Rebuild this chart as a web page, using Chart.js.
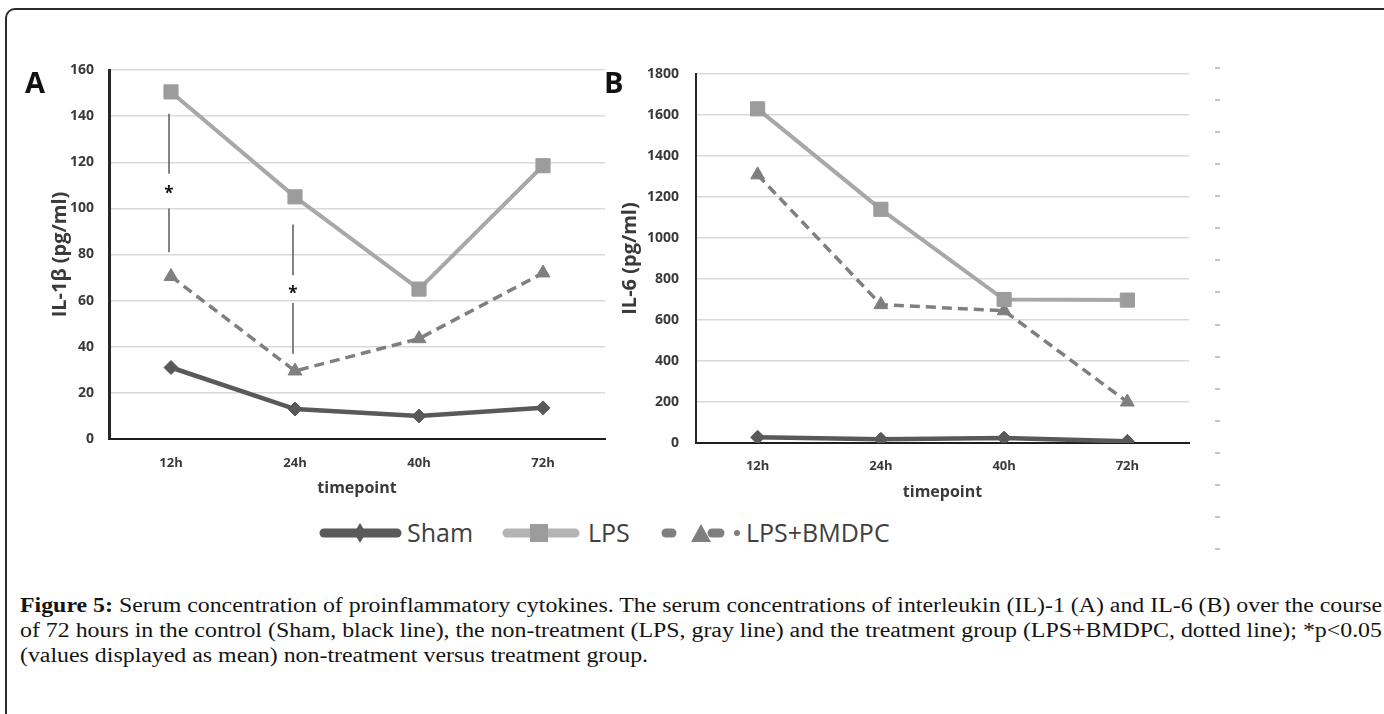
<!DOCTYPE html>
<html lang="en">

<head>
    <meta charset="UTF-8">
    <title>Figure 5 - serum cytokines</title>
    <script src="https://cdn.jsdelivr.net/npm/chart.js"></script>
    <style>
        body {
            margin: 0;
            width: 1384px;
            height: 714px;
            overflow: hidden;
            background: #fff;
            position: relative;
            font-family: "Open Sans", sans-serif;
        }

        .frame {
            position: absolute;
            left: 5px;
            top: 8px;
            width: 1420px;
            height: 740px;
            border: 2px solid #2b2b2b;
            border-top-left-radius: 10px;
        }

        canvas {
            position: absolute;
            top: 0;
        }

        #chartA { left: 0; }
        #chartB { left: 590px; }

        .panel {
            position: absolute;
            font-weight: bold;
            font-size: 29px;
            line-height: 29px;
            color: #111;
        }

        .ticks-right {
            position: absolute;
            left: 1215px;
            top: 67px;
            width: 5px;
            height: 486px;
            background: repeating-linear-gradient(to bottom, #c4c4c4 0 2px, transparent 2px 32.07px);
        }

        #legend {
            position: absolute;
            left: 300px;
            top: 505px;
        }

        .caption {
            position: absolute;
            left: 20px;
            top: 593px;
            font-family: "Liberation Serif", "Times New Roman", serif;
            font-size: 20px;
            color: #141414;
        }

        .caption div {
            height: 25px;
            line-height: 25px;
            white-space: nowrap;
        }

        .caption span {
            display: inline-block;
            transform-origin: 0 50%;
        }
    </style>
</head>

<body>
    <div class="frame"></div>

    <canvas id="chartA" width="616" height="498"></canvas>
    <canvas id="chartB" width="610" height="502"></canvas>

    <div class="panel" style="left:25px; top:67px;">A</div>
    <div class="panel" style="left:604px; top:67px;">B</div>

    <div class="ticks-right"></div>

    <svg id="legend" width="620" height="55"></svg>

    <div class="caption">
        <div><span class="fit"><b>Figure 5:</b> Serum concentration of proinflammatory cytokines. The serum concentrations of interleukin (IL)-1 (A) and IL-6 (B) over the course</span></div>
        <div><span class="fit">of 72 hours in the control (Sham, black line), the non-treatment (LPS, gray line) and the treatment group (LPS+BMDPC, dotted line); *p&lt;0.05</span></div>
        <div><span class="last">(values displayed as mean) non-treatment versus treatment group.</span></div>
    </div>

    <script>
        // data
        const timepoints = ['12h', '24h', '40h', '72h'];
        const seriesNames = ['Sham', 'LPS', 'LPS+BMDPC'];

        // panel A: IL-1beta (pg/ml)
        const il1bSham = [31, 13, 10, 13.5];
        const il1bLps = [150.5, 105, 65, 118.5];
        const il1bTreat = [70.5, 29.5, 43.5, 72];

        // panel B: IL-6 (pg/ml)
        const il6Sham = [28, 18, 24, 8];
        const il6Lps = [1630, 1140, 700, 697];
        const il6Treat = [1308, 675, 645, 200];

        // y axis ranges
        const il1bMax = 160, il1bStep = 20;
        const il6Max = 1800, il6Step = 200;

        // significance bars on panel A (values in pg/ml)
        const sigMarks = [
            { at: '12h', upper: [141, 115], star: 108, lower: [100, 81] },
            { at: '24h', upper: [93, 71], star: 64.5, lower: [59, 37] }
        ];

        const colSham = '#595959';
        const colLps = '#a8a8a8';
        const colLpsPoint = '#9c9c9c';
        const colTreat = '#7f7f7f';
        const axisText = '#3a3a3a';

        Chart.defaults.font.family = "'Open Sans', sans-serif";

        function makeDatasets(sham, lps, treat) {
            return [
                {
                    label: seriesNames[0], data: sham,
                    borderColor: colSham, borderWidth: 4.5,
                    pointStyle: 'rectRot', pointRadius: 7, pointHoverRadius: 7,
                    pointBackgroundColor: colSham, pointBorderColor: colSham, pointBorderWidth: 1
                },
                {
                    label: seriesNames[1], data: lps,
                    borderColor: colLps, borderWidth: 4,
                    pointStyle: 'rect', pointRadius: 10, pointHoverRadius: 10,
                    pointBackgroundColor: colLpsPoint, pointBorderColor: colLpsPoint, pointBorderWidth: 1
                },
                {
                    label: seriesNames[2], data: treat,
                    borderColor: colTreat, borderWidth: 3.5, borderDash: [10, 6],
                    pointStyle: 'triangle', pointRadius: 8, pointHoverRadius: 8,
                    pointBackgroundColor: colTreat, pointBorderColor: colTreat, pointBorderWidth: 1
                }
            ];
        }

        function makeOptions(cfg) {
            return {
                responsive: false,
                animation: false,
                layout: { padding: { top: cfg.top, right: 8, left: 0, bottom: 0 } },
                plugins: {
                    legend: { display: false },
                    tooltip: { enabled: false },
                    sig: { marks: cfg.marks || [] }
                },
                scales: {
                    x: {
                        offset: true,
                        grid: { display: false },
                        border: { display: true, color: '#1e1e1e', width: 2 },
                        ticks: { color: axisText, font: { size: 13, weight: 'bold' }, padding: cfg.xTickPad },
                        title: {
                            display: true, text: 'timepoint', color: axisText,
                            font: { size: 16, weight: 'bold' }, padding: { top: 4, bottom: 0 }
                        },
                        afterFit(scale) { scale.height = 59; }
                    },
                    y: {
                        min: 0, max: cfg.max,
                        ticks: {
                            stepSize: cfg.step, color: axisText, font: { size: 14, weight: 'bold' },
                            padding: cfg.yTickPad, callback: v => String(v)
                        },
                        grid: { color: '#d9d9d9', lineWidth: 1.5, drawTicks: false },
                        border: { display: true, color: '#262626', width: cfg.axisW },
                        title: {
                            display: true, text: cfg.yTitle, color: axisText,
                            font: { size: 20, weight: 'bold' }, padding: { top: cfg.titlePad, bottom: 0 }
                        },
                        afterFit(scale) { scale.width = cfg.yWidth; }
                    }
                }
            };
        }

        // draws the "*" bars between LPS and treatment
        const sigPlugin = {
            id: 'sig',
            afterDatasetsDraw(chart, args, opts) {
                const marks = opts.marks || [];
                if (!marks.length) return;
                const ctx = chart.ctx;
                const x = chart.scales.x, y = chart.scales.y;
                ctx.save();
                ctx.strokeStyle = '#5a5a5a';
                ctx.lineWidth = 1.5;
                ctx.fillStyle = '#111';
                ctx.font = "bold 17px 'Open Sans'";
                ctx.textAlign = 'center';
                ctx.textBaseline = 'middle';
                marks.forEach(m => {
                    const px = x.getPixelForValue(timepoints.indexOf(m.at)) - 2;
                    [m.upper, m.lower].forEach(seg => {
                        ctx.beginPath();
                        ctx.moveTo(px, y.getPixelForValue(seg[0]));
                        ctx.lineTo(px, y.getPixelForValue(seg[1]));
                        ctx.stroke();
                    });
                    ctx.fillText('*', px, y.getPixelForValue(m.star) + 4);
                });
                ctx.restore();
            }
        };

        new Chart(document.getElementById('chartA'), {
            type: 'line',
            data: { labels: timepoints, datasets: makeDatasets(il1bSham, il1bLps, il1bTreat) },
            options: makeOptions({
                top: 70, max: il1bMax, step: il1bStep, yTitle: 'IL-1β (pg/ml)',
                yWidth: 109, yTickPad: 15, xTickPad: 8, titlePad: 48, axisW: 3, marks: sigMarks
            }),
            plugins: [sigPlugin]
        });

        new Chart(document.getElementById('chartB'), {
            type: 'line',
            data: { labels: timepoints, datasets: makeDatasets(il6Sham, il6Lps, il6Treat) },
            options: makeOptions({
                top: 74, max: il6Max, step: il6Step, yTitle: 'IL-6 (pg/ml)',
                yWidth: 106, yTickPad: 17, xTickPad: 7, titlePad: 28, axisW: 2
            })
        });

        // shared legend under both panels
        const ns = 'http://www.w3.org/2000/svg';
        const legend = document.getElementById('legend');
        function add(tag, attrs) {
            const el = document.createElementNS(ns, tag);
            for (const k in attrs) el.setAttribute(k, attrs[k]);
            legend.appendChild(el);
            return el;
        }
        function label(text, x) {
            const t = add('text', { x: x, y: 37, fill: '#404040', 'font-size': 25, 'font-family': 'Open Sans' });
            t.textContent = text;
        }
        // Sham
        add('line', { x1: 24, y1: 28, x2: 97, y2: 28, stroke: colSham, 'stroke-width': 9, 'stroke-linecap': 'round' });
        add('polygon', { points: '60,18 66,28 60,38 54,28', fill: colSham });
        label(seriesNames[0], 107);
        // LPS
        add('line', { x1: 207, y1: 28, x2: 275, y2: 28, stroke: '#b4b4b4', 'stroke-width': 9, 'stroke-linecap': 'round' });
        add('rect', { x: 230, y: 19, width: 18, height: 18, fill: colLpsPoint });
        label(seriesNames[1], 288);
        // LPS+BMDPC
        add('line', { x1: 366, y1: 28, x2: 372, y2: 28, stroke: colTreat, 'stroke-width': 9, 'stroke-linecap': 'round' });
        add('line', { x1: 412, y1: 28, x2: 420, y2: 28, stroke: colTreat, 'stroke-width': 9, 'stroke-linecap': 'round' });
        add('polygon', { points: '391,37 401,19 411,37', fill: colTreat });
        add('circle', { cx: 437, cy: 28, r: 3, fill: colTreat });
        label(seriesNames[2], 446);

        // caption lines 1-2 run the full column width, the same stretch is used on line 3
        const columnWidth = 1362;
        const scales = [];
        document.querySelectorAll('.caption .fit').forEach(el => {
            const s = columnWidth / el.getBoundingClientRect().width;
            scales.push(s);
            el.style.transform = 'scaleX(' + s + ')';
        });
        const lastScale = scales.reduce((a, b) => a + b, 0) / scales.length;
        document.querySelector('.caption .last').style.transform = 'scaleX(' + lastScale + ')';
    </script>
</body>

</html>
